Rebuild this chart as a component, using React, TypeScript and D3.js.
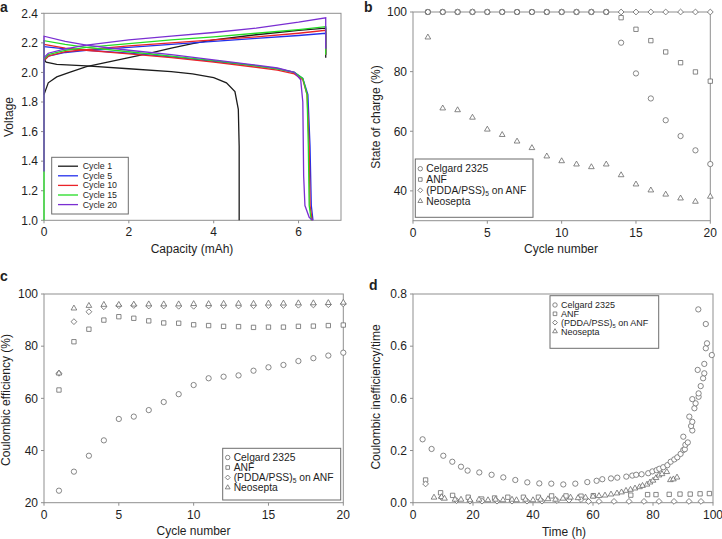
import React from 'react'
import * as d3 from 'd3'

// ---- look ----
const FONT = '"Liberation Sans", Arial, Helvetica, sans-serif'
const AXIS = '#8f8f8f'
const INK = '#1e1e1e'
const MARK = '#6a6a6a'

// ---- panel a: voltage profiles, [capacity mAh, voltage] ----
const cycleNames = ['Cycle 1', 'Cycle 5', 'Cycle 10', 'Cycle 15', 'Cycle 20']
const cycleColors = ['#1c1c1c', '#2430ec', '#ea2329', '#25dc25', '#7a2fd2']

const charge1 = [[0, 1.85], [0.1, 1.93], [0.3, 1.97], [0.6, 2.0], [1, 2.04], [1.5, 2.07], [2, 2.1], [2.5, 2.13], [3, 2.165], [3.5, 2.195], [4, 2.22], [5, 2.255], [6, 2.285], [6.64, 2.3], [6.64, 2.1]]
const charge5 = [[0, 2.08], [0.1, 2.11], [0.5, 2.135], [1, 2.15], [2, 2.17], [3, 2.19], [4, 2.21], [5, 2.23], [6, 2.25], [6.64, 2.265], [6.64, 2.12]]
const charge10 = [[0, 2.08], [0.1, 2.11], [0.5, 2.14], [1, 2.155], [2, 2.18], [3, 2.2], [4, 2.22], [5, 2.24], [6, 2.265], [6.64, 2.285], [6.64, 2.12]]
const charge15 = [[0, 2.09], [0.1, 2.12], [0.5, 2.15], [1, 2.17], [2, 2.195], [3, 2.22], [4, 2.24], [5, 2.265], [6, 2.29], [6.64, 2.31], [6.64, 2.12]]
const charge20 = [[0, 2.1], [0.1, 2.13], [0.5, 2.16], [1, 2.185], [2, 2.22], [3, 2.245], [4, 2.27], [5, 2.3], [6, 2.34], [6.64, 2.37], [6.64, 2.16]]

const discharge1 = [[0, 2.09], [0.05, 2.07], [0.3, 2.055], [1, 2.045], [2, 2.025], [3, 2.005], [3.5, 1.99], [4, 1.965], [4.3, 1.93], [4.5, 1.87], [4.58, 1.75], [4.6, 1.5], [4.6, 1.0]]
const discharge5 = [[0, 2.175], [0.5, 2.16], [1, 2.15], [2, 2.13], [3, 2.105], [4, 2.075], [5, 2.045], [5.5, 2.025], [5.9, 2.0], [6.1, 1.96], [6.22, 1.85], [6.27, 1.5], [6.3, 1.1], [6.34, 1.0]]
const discharge10 = [[0, 2.19], [0.5, 2.165], [1, 2.15], [2, 2.125], [3, 2.1], [4, 2.07], [5, 2.035], [5.5, 2.015], [5.9, 1.99], [6.1, 1.95], [6.2, 1.85], [6.25, 1.5], [6.27, 1.1], [6.32, 1.0]]
const discharge15 = [[0, 1.0], [0, 2.215], [0.5, 2.19], [1, 2.17], [2, 2.14], [3, 2.11], [4, 2.08], [5, 2.045], [5.5, 2.025], [5.9, 2.0], [6.1, 1.96], [6.2, 1.85], [6.23, 1.5], [6.25, 1.1], [6.3, 1.0]]
const discharge20 = [[0, 1.33], [0, 2.245], [0.5, 2.21], [1, 2.185], [2, 2.15], [3, 2.12], [4, 2.085], [5, 2.05], [5.5, 2.03], [5.9, 2.0], [6.05, 1.95], [6.1, 1.8], [6.12, 1.3], [6.15, 1.1], [6.25, 1.02], [6.33, 1.0]]

const chargeCurves = [charge1, charge5, charge10, charge15, charge20]
const dischargeCurves = [discharge1, discharge5, discharge10, discharge15, discharge20]

// ---- panels b and c: per cycle ----
const cycles = [1, 2, 3, 4, 5, 6, 7, 8, 9, 10, 11, 12, 13, 14, 15, 16, 17, 18, 19, 20]
const membranes = ['Celgard 2325', 'ANF', '(PDDA/PSS)5 on ANF', 'Neosepta']
const shapes = ['circle', 'square', 'diamond', 'triangle']

const socCelgard = [100, 100, 100, 100, 100, 100, 100, 100, 100, 100, 100, 100, 100, 89.7, 79.4, 71.0, 63.7, 58.4, 53.6, 49.0]
const socANF = [100, 100, 100, 100, 100, 100, 100, 100, 100, 100, 100, 100, 100, 98.1, 94.2, 90.4, 86.6, 83.0, 79.9, 76.8]
const socPDDA = [100, 100, 100, 100, 100, 100, 100, 100, 100, 100, 100, 100, 100, 100, 100, 100, 100, 100, 100, 100]
const socNeosepta = [91.5, 67.7, 67.1, 64.6, 60.6, 58.8, 56.6, 54.4, 51.6, 50.0, 48.9, 48.0, 48.9, 45.3, 42.2, 40.2, 38.8, 37.5, 36.4, 38.1]

const ceCelgard = [24.6, 31.9, 38.0, 43.9, 52.1, 53.0, 55.5, 58.6, 61.6, 65.1, 67.7, 68.3, 68.8, 70.6, 71.9, 72.8, 74.3, 75.4, 76.4, 77.5]
const ceANF = [63.2, 81.7, 86.5, 90.0, 91.3, 90.7, 89.7, 88.9, 88.8, 88.2, 87.9, 87.6, 87.5, 87.2, 87.3, 87.3, 87.6, 87.7, 87.9, 88.1]
const cePDDA = [69.6, 89.4, 93.2, 95.1, 95.5, 95.6, 95.4, 95.4, 95.3, 95.3, 95.4, 95.5, 95.4, 95.5, 95.5, 95.6, 95.7, 95.8, 95.9, 96.2]
const ceNeosepta = [69.6, 94.5, 95.5, 95.9, 95.9, 96.0, 96.1, 96.1, 96.1, 96.2, 96.2, 96.3, 96.3, 96.3, 96.4, 96.4, 96.5, 96.5, 96.6, 96.7]

// ---- panel d: [time h, inefficiency/time] ----
const ineffCelgard = [[3.2, 0.243], [6.2, 0.206], [10.1, 0.18], [13.1, 0.157], [16, 0.138], [18.2, 0.123], [22.1, 0.116], [26.2, 0.107], [30.1, 0.097], [34.1, 0.087], [38.1, 0.078], [42.1, 0.074], [46.1, 0.073], [50.1, 0.07], [54.1, 0.073], [58.1, 0.079], [61.2, 0.084], [63.1, 0.09], [66, 0.093], [68.1, 0.096], [71.1, 0.1], [73.1, 0.104], [74.4, 0.107], [76.2, 0.109], [78.4, 0.113], [79.8, 0.12], [81.2, 0.125], [82.1, 0.13], [83.4, 0.136], [84.8, 0.144], [85.9, 0.157], [87.1, 0.166], [88.1, 0.174], [89.2, 0.187], [90.1, 0.202], [90.6, 0.205], [90.8, 0.222], [91.6, 0.231], [90.1, 0.253], [93.1, 0.277], [92.7, 0.294], [93.1, 0.31], [92.1, 0.33], [93.8, 0.362], [94.2, 0.381], [93.1, 0.397], [95.2, 0.406], [95.2, 0.419], [95.9, 0.447], [96.7, 0.477], [97.1, 0.496], [94.9, 0.509], [97.1, 0.532], [99.6, 0.566], [97.6, 0.592], [98, 0.611], [97.6, 0.685], [95.1, 0.741]]
const ineffANF = [[4.2, 0.087], [9.2, 0.038], [13.2, 0.028], [18.4, 0.021], [22.9, 0.014], [27.2, 0.018], [31.6, 0.021], [36.8, 0.021], [41.8, 0.021], [46.2, 0.026], [51, 0.026], [56, 0.025], [60.1, 0.027], [72.6, 0.029], [78.2, 0.031], [81, 0.031], [85.4, 0.032], [89, 0.033], [92.4, 0.033], [95.7, 0.034], [98.8, 0.035]]
const ineffPDDA = [[4.2, 0.072], [9.5, 0.02], [14.5, 0.008], [19, 0.006], [23, 0.006], [28, 0.006], [33, 0.006], [38, 0.006], [43, 0.006], [48, 0.008], [52, 0.01], [56, 0.012], [58.5, 0.005], [62, 0.005], [67, 0.005], [72, 0.005], [77, 0.005], [82, 0.005], [87, 0.005], [92, 0.005], [96, 0.005]]
const ineffNeosepta = [[7, 0.02], [9.5, 0.022], [10.5, 0.016], [14, 0.012], [16, 0.012], [19, 0.01], [22, 0.012], [25, 0.01], [27.5, 0.012], [30, 0.01], [33, 0.012], [34.5, 0.01], [37.5, 0.012], [40, 0.01], [42.5, 0.012], [45, 0.014], [47.5, 0.012], [50, 0.016], [52.5, 0.02], [55, 0.018], [57.5, 0.02], [60, 0.024], [62, 0.026], [64, 0.028], [66, 0.032], [68, 0.036], [69.5, 0.04], [71, 0.046], [72.5, 0.05], [74, 0.055], [75.5, 0.06], [76.5, 0.065], [78, 0.07], [79, 0.078], [80, 0.085], [81, 0.095], [82, 0.105], [83, 0.11], [84.6, 0.118], [85.8, 0.087], [86.8, 0.09], [88, 0.097]]

// tick labels as printed in the figure
const ticksA_x = [0, 2, 4, 6]
const ticksA_y = [1.0, 1.2, 1.4, 1.6, 1.8, 2.0, 2.2, 2.4]
const ticksCycle = [0, 5, 10, 15, 20]
const ticksB_y = [40, 60, 80, 100]
const ticksC_y = [20, 40, 60, 80, 100]
const ticksD_x = [0, 20, 40, 60, 80, 100]
const ticksD_y = [0, 0.2, 0.4, 0.6, 0.8]
const ticksD_ylabels = ['0.0', '0.2', '0.6', '0.6', '0.8']

// ---- helpers ----
const symbolType: any = {
  circle: d3.symbolCircle,
  square: d3.symbolSquare,
  diamond: d3.symbolSquare,
  triangle: d3.symbolTriangle,
}
const symbolSize: any = { circle: 22, square: 19, diamond: 17, triangle: 14 }

const Marker = ({ shape, x, y, k = 1 }: any) => {
  const d = d3.symbol(symbolType[shape], symbolSize[shape] * k)()
  const rot = shape === 'diamond' ? ' rotate(45)' : ''
  return <path d={d} transform={`translate(${x},${y})${rot}`} fill="#fff" stroke={MARK} strokeWidth={0.8} />
}

const Frame = ({ x, y, xTicks, yTicks, yLabels, yFmt }: any) => {
  const [x0, x1] = x.range()
  const [yb, yt] = y.range()
  return (
    <g>
      <rect x={x0} y={yt} width={x1 - x0} height={yb - yt} fill="none" stroke={AXIS} strokeWidth={1} />
      {xTicks.map((t: number) => (
        <g key={'x' + t}>
          <line x1={x(t)} x2={x(t)} y1={yb} y2={yb + 3} stroke={AXIS} />
          <text x={x(t)} y={yb + 16} textAnchor="middle" fontSize={12} fill={INK}>{t}</text>
        </g>
      ))}
      {yTicks.map((t: number, i: number) => (
        <g key={'y' + i}>
          <line x1={x0 - 3} x2={x0} y1={y(t)} y2={y(t)} stroke={AXIS} />
          <text x={x0 - 6} y={y(t)} dy="0.36em" textAnchor="end" fontSize={12} fill={INK}>
            {yLabels ? yLabels[i] : yFmt(t)}
          </text>
        </g>
      ))}
    </g>
  )
}

const Titles = ({ letter, lx, ly, xTitle, xtx, xty, yTitle, ytx, yty }: any) => (
  <g fill={INK}>
    <text x={lx} y={ly} fontSize={14} fontWeight="bold">{letter}</text>
    <text x={xtx} y={xty} fontSize={12} textAnchor="middle">{xTitle}</text>
    <text transform={`translate(${ytx},${yty}) rotate(-90)`} fontSize={12} textAnchor="middle">{yTitle}</text>
  </g>
)

const LegendLabel = ({ name, fs }: any) =>
  name.indexOf('5 on') >= 0 ? (
    <>
      (PDDA/PSS)<tspan fontSize={fs * 0.65} dy={2}>5</tspan><tspan dy={-2}> on ANF</tspan>
    </>
  ) : (
    <>{name}</>
  )

const MarkerLegend = ({ bx, by, bw, bh, rowY, step, fs = 10 }: any) => (
  <g>
    <rect x={bx} y={by} width={bw} height={bh} fill="#fff" stroke="#6d6d6d" strokeWidth={1} />
    {membranes.map((m, i) => (
      <g key={m}>
        <Marker shape={shapes[i]} x={bx + 5} y={rowY + i * step} k={0.7} />
        <text x={bx + 11} y={rowY + i * step} dy="0.35em" fontSize={fs} fill={INK}>
          <LegendLabel name={m} fs={fs} />
        </text>
      </g>
    ))}
  </g>
)

// ---- panels ----
const PanelA = () => {
  const x = d3.scaleLinear().domain([0, 7]).range([44, 341])
  const y = d3.scaleLinear().domain([1.0, 2.4]).range([220.3, 13.3])
  const line = d3.line<number[]>().x(d => x(d[0])).y(d => y(d[1]))
  return (
    <g>
      <Frame x={x} y={y} xTicks={ticksA_x} yTicks={ticksA_y} yFmt={d3.format('.1f')} />
      {cycleNames.map((c, i) => (
        <g key={c} fill="none" stroke={cycleColors[i]} strokeWidth={1.3}>
          <path d={line(chargeCurves[i] as any) as string} />
          <path d={line(dischargeCurves[i] as any) as string} />
        </g>
      ))}
      <rect x={51.7} y={157.3} width={76.6} height={56.7} fill="#fff" stroke="#6d6d6d" strokeWidth={1} />
      {cycleNames.map((c, i) => (
        <g key={'lg' + c}>
          <line x1={58} x2={78} y1={166.2 + i * 9.6} y2={166.2 + i * 9.6} stroke={cycleColors[i]} strokeWidth={1.3} />
          <text x={82.7} y={166.2 + i * 9.6} dy="0.35em" fontSize={8.8} fill={INK}>{c}</text>
        </g>
      ))}
      <Titles letter="a" lx={0} ly={12} xTitle="Capacity (mAh)" xtx={192} xty={253}
        yTitle="Voltage" ytx={13} yty={117} />
    </g>
  )
}

const seriesB = [socCelgard, socANF, socPDDA, socNeosepta]
const seriesC = [ceCelgard, ceANF, cePDDA, ceNeosepta]
const seriesD = [ineffCelgard, ineffANF, ineffPDDA, ineffNeosepta]

const PanelB = () => {
  const x = d3.scaleLinear().domain([0, 20]).range([413, 710.3])
  const y = d3.scaleLinear().domain([30, 100]).range([220.7, 12])
  return (
    <g>
      <Frame x={x} y={y} xTicks={ticksCycle} yTicks={ticksB_y} yFmt={d3.format('d')} />
      {seriesB.map((s, k) => (
        <g key={k}>
          {s.map((v, i) => <Marker key={i} shape={shapes[k]} x={x(cycles[i])} y={y(v)} />)}
        </g>
      ))}
      <MarkerLegend bx={415.3} by={159} bw={117.7} bh={58.3} rowY={168.7} step={10.8} fs={10.3} />
      <Titles letter="b" lx={364} ly={12} xTitle="Cycle number" xtx={561} xty={253}
        yTitle="State of charge (%)" ytx={380} yty={117} />
    </g>
  )
}

const PanelC = () => {
  const x = d3.scaleLinear().domain([0, 20]).range([44, 343.3])
  const y = d3.scaleLinear().domain([20, 100]).range([502.7, 294])
  return (
    <g>
      <Frame x={x} y={y} xTicks={ticksCycle} yTicks={ticksC_y} yFmt={d3.format('d')} />
      {seriesC.map((s, k) => (
        <g key={k}>
          {s.map((v, i) => <Marker key={i} shape={shapes[k]} x={x(cycles[i])} y={y(v)} />)}
        </g>
      ))}
      <MarkerLegend bx={222.7} by={448.3} bw={118} bh={51.7} rowY={457.5} step={10} fs={10.3} />
      <Titles letter="c" lx={0} ly={281} xTitle="Cycle number" xtx={193.5} xty={535}
        yTitle="Coulombic efficiency (%)" ytx={10} yty={400} />
    </g>
  )
}

const PanelD = () => {
  const x = d3.scaleLinear().domain([0, 100]).range([413, 713])
  const y = d3.scaleLinear().domain([0, 0.8]).range([502.7, 294])
  return (
    <g>
      <Frame x={x} y={y} xTicks={ticksD_x} yTicks={ticksD_y} yLabels={ticksD_ylabels} />
      {seriesD.map((s, k) => (
        <g key={k}>
          {s.map((p, i) => <Marker key={i} shape={shapes[k]} x={x(p[0])} y={y(p[1])} />)}
        </g>
      ))}
      <MarkerLegend bx={550} by={295.7} bw={108.7} bh={52.6} rowY={305} step={8.8} fs={9} />
      <Titles letter="d" lx={369} ly={290} xTitle="Time (h)" xtx={564} xty={536}
        yTitle="Coulombic inefficiency/time" ytx={380} yty={397} />
    </g>
  )
}

export default function App() {
  return (
    <svg width={722} height={539} style={{ position: 'absolute', left: 0, top: 0, background: '#fff' }}
      fontFamily={FONT}>
      <rect width={722} height={539} fill="#fff" />
      <PanelA />
      <PanelB />
      <PanelC />
      <PanelD />
    </svg>
  )
}
